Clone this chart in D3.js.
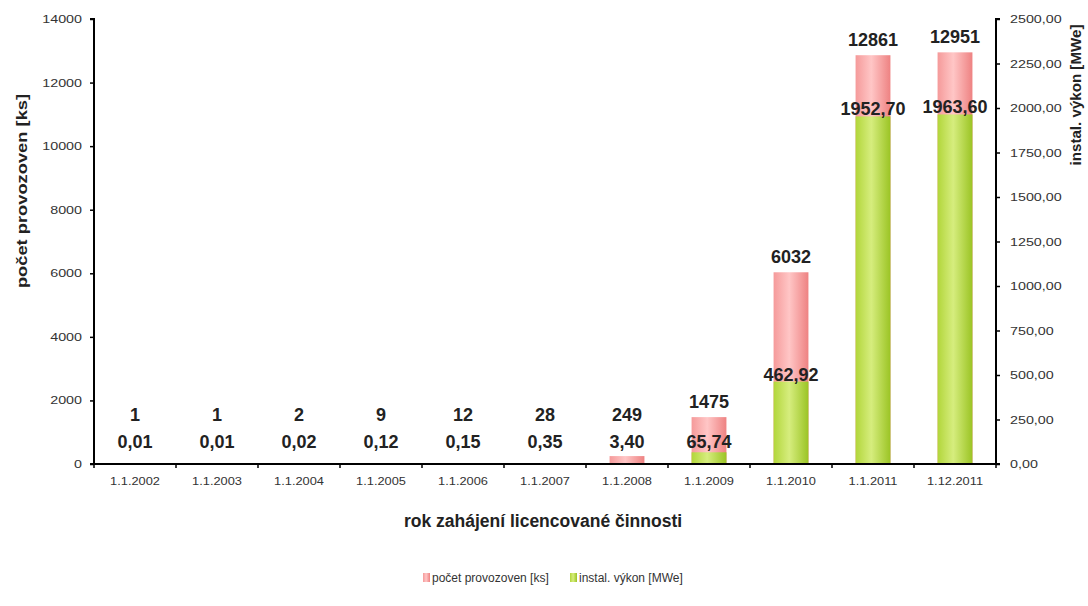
<!DOCTYPE html>
<html>
<head>
<meta charset="utf-8">
<script src="https://cdn.jsdelivr.net/npm/d3@7"></script>
<style>
  body { margin: 0; background: #fff; }
  svg text { font-family: "Liberation Sans", Arial, sans-serif; }
</style>
</head>
<body>
<div id="chart"></div>
<script>
const categories = ['1.1.2002', '1.1.2003', '1.1.2004', '1.1.2005', '1.1.2006', '1.1.2007',
  '1.1.2008', '1.1.2009', '1.1.2010', '1.1.2011', '1.12.2011'];
const plantCount = [1, 1, 2, 9, 12, 28, 249, 1475, 6032, 12861, 12951];
const installedPower = [0.01, 0.01, 0.02, 0.12, 0.15, 0.35, 3.40, 65.74, 462.92, 1952.70, 1963.60];
const leftTicks = [0, 2000, 4000, 6000, 8000, 10000, 12000, 14000];
const rightTicks = [0, 250, 500, 750, 1000, 1250, 1500, 1750, 2000, 2250, 2500];

const width = 1088;
const height = 606;
const margin = { left: 94, right: 92, top: 19, bottom: 142 };
const plotBottom = height - margin.bottom;

const fmtComma = (v, d) => v.toFixed(d).replace('.', ',');

// the source picture has rather wide lettering, widen text a bit
const stretch = (sel, k) => sel.each(function () {
  const len = this.getComputedTextLength();
  d3.select(this).attr('textLength', len * k).attr('lengthAdjust', 'spacingAndGlyphs');
});

const svg = d3.select('#chart').append('svg')
  .attr('width', width)
  .attr('height', height);

const defs = svg.append('defs');
const addGradient = (id, edgeL, mid, edgeR) => {
  const g = defs.append('linearGradient').attr('id', id)
    .attr('x1', '0%').attr('x2', '100%').attr('y1', '0%').attr('y2', '0%');
  g.append('stop').attr('offset', '0%').attr('stop-color', edgeL);
  g.append('stop').attr('offset', '45%').attr('stop-color', mid);
  g.append('stop').attr('offset', '100%').attr('stop-color', edgeR);
};
addGradient('gradRed', '#f59a9a', '#ffc6c6', '#ee8282');
addGradient('gradGreen', '#b2d63a', '#d6ed7e', '#9bc424');

const x = d3.scaleBand()
  .domain(categories)
  .range([margin.left, width - margin.right])
  .paddingInner(0.575)
  .paddingOuter(0.2875);

const band = d3.scaleBand()
  .domain(categories)
  .range([margin.left, width - margin.right]);

const yL = d3.scaleLinear().domain([0, 14000]).range([plotBottom, margin.top]);
const yR = d3.scaleLinear().domain([0, 2500]).range([plotBottom, margin.top]);

// bars: count (behind) and power (in front), sharing the same slot
svg.append('g').selectAll('rect')
  .data(plantCount)
  .enter().append('rect')
  .attr('x', (d, i) => x(categories[i]))
  .attr('y', d => yL(d))
  .attr('width', x.bandwidth())
  .attr('height', d => plotBottom - yL(d))
  .attr('fill', 'url(#gradRed)');

svg.append('g').selectAll('rect')
  .data(installedPower)
  .enter().append('rect')
  .attr('x', (d, i) => x(categories[i]))
  .attr('y', d => yR(d))
  .attr('width', x.bandwidth())
  .attr('height', d => plotBottom - yR(d))
  .attr('fill', 'url(#gradGreen)');

// axes
const leftAxis = svg.append('g')
  .attr('transform', `translate(${margin.left},0)`)
  .call(d3.axisLeft(yL).tickValues(leftTicks).tickSize(4).tickPadding(8).tickFormat(d => d));
const rightAxis = svg.append('g')
  .attr('transform', `translate(${width - margin.right},0)`)
  .call(d3.axisRight(yR).tickValues(rightTicks).tickSize(4).tickPadding(10).tickFormat(d => fmtComma(d, 2)));
const bottomAxis = svg.append('g')
  .attr('transform', `translate(0,${plotBottom})`)
  .call(d3.axisBottom(band).tickSize(0).tickPadding(14));

[leftAxis, rightAxis, bottomAxis].forEach(a => {
  a.select('.domain').attr('stroke', '#000').attr('stroke-width', 2);
  a.selectAll('.tick line').attr('stroke', '#000').attr('stroke-width', 1.5);
  a.selectAll('.tick text').attr('fill', '#333').attr('font-size', 11)
    .style('font-family', '"Liberation Sans", Arial, sans-serif');
});
bottomAxis.selectAll('.tick text').attr('font-size', 10);
stretch(leftAxis.selectAll('.tick text'), 1.3);
stretch(rightAxis.selectAll('.tick text'), 1.3);
stretch(bottomAxis.selectAll('.tick text'), 1.28);
leftAxis.select('.domain').attr('d', `M-4,${margin.top}H0V${plotBottom}H-4`);
rightAxis.select('.domain').attr('d', `M4,${margin.top}H0V${plotBottom}H4`);
bottomAxis.select('.domain').attr('d', `M${margin.left},0H${width - margin.right}`);

// category separator ticks on x axis
svg.append('g').selectAll('line')
  .data(categories.concat([null]))
  .enter().append('line')
  .attr('x1', (d, i) => margin.left + i * band.bandwidth())
  .attr('x2', (d, i) => margin.left + i * band.bandwidth())
  .attr('y1', plotBottom)
  .attr('y2', plotBottom + 4)
  .attr('stroke', '#000')
  .attr('stroke-width', 1.5);

// value labels
svg.append('g').selectAll('text')
  .data(plantCount)
  .enter().append('text')
  .attr('x', (d, i) => x(categories[i]) + x.bandwidth() / 2)
  .attr('y', d => Math.min(yL(d) - 9, 421))
  .attr('text-anchor', 'middle')
  .attr('font-size', 18)
  .attr('font-weight', 'bold')
  .attr('fill', '#222')
  .text(d => d);

svg.append('g').selectAll('text')
  .data(installedPower)
  .enter().append('text')
  .attr('x', (d, i) => x(categories[i]) + x.bandwidth() / 2)
  .attr('y', d => Math.min(yR(d) - 1, 448))
  .attr('text-anchor', 'middle')
  .attr('font-size', 18)
  .attr('font-weight', 'bold')
  .attr('fill', '#222')
  .text(d => fmtComma(d, 2));

// axis titles
const leftTitle = svg.append('text')
  .attr('transform', `translate(27,191) rotate(-90)`)
  .attr('text-anchor', 'middle')
  .attr('font-size', 15)
  .attr('font-weight', 'bold')
  .attr('fill', '#222')
  .text('počet provozoven [ks]');
stretch(leftTitle, 1.22);

const rightTitle = svg.append('text')
  .attr('transform', `translate(1081,95) rotate(-90)`)
  .attr('text-anchor', 'middle')
  .attr('font-size', 14)
  .attr('font-weight', 'bold')
  .attr('fill', '#222')
  .text('instal. výkon [MWe]');
stretch(rightTitle, 1.08);

svg.append('text')
  .attr('x', 543)
  .attr('y', 527)
  .attr('text-anchor', 'middle')
  .attr('font-size', 17.5)
  .attr('font-weight', 'bold')
  .attr('fill', '#222')
  .text('rok zahájení licencované činnosti');

// legend
const legendItems = [
  { label: 'počet provozoven [ks]', fill: 'url(#gradRed)', x: 423 },
  { label: 'instal. výkon [MWe]', fill: 'url(#gradGreen)', x: 570 },
];
const legend = svg.append('g').attr('transform', 'translate(0,582)');
legendItems.forEach(item => {
  legend.append('rect')
    .attr('x', item.x)
    .attr('y', -9)
    .attr('width', 7)
    .attr('height', 9)
    .attr('fill', item.fill);
  legend.append('text')
    .attr('x', item.x + 9)
    .attr('y', 0)
    .attr('font-size', 12)
    .attr('fill', '#333')
    .text(item.label);
});
</script>
</body>
</html>
